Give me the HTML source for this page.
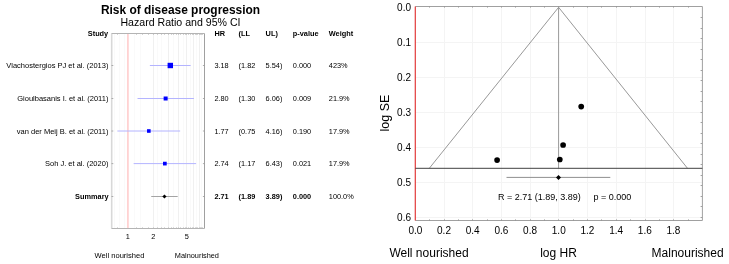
<!DOCTYPE html>
<html><head><meta charset="utf-8"><style>
html,body{margin:0;padding:0;background:#fff;width:729px;height:264px;overflow:hidden}
svg{display:block;will-change:transform}
text{font-family:"Liberation Sans",sans-serif;fill:#000}
</style></head><body>
<svg width="729" height="264" viewBox="0 0 729 264">
<line x1="161.50" y1="33.5" x2="161.50" y2="228.5" stroke="#fafafa" stroke-width="1"/>
<line x1="173.50" y1="33.5" x2="173.50" y2="228.5" stroke="#fafafa" stroke-width="1"/>
<line x1="183.50" y1="33.5" x2="183.50" y2="228.5" stroke="#fafafa" stroke-width="1"/>
<line x1="190.50" y1="33.5" x2="190.50" y2="228.5" stroke="#fafafa" stroke-width="1"/>
<line x1="196.50" y1="33.5" x2="196.50" y2="228.5" stroke="#fafafa" stroke-width="1"/>
<line x1="201.50" y1="33.5" x2="201.50" y2="228.5" stroke="#fafafa" stroke-width="1"/>
<line x1="114.50" y1="33.5" x2="114.50" y2="228.5" stroke="#fafafa" stroke-width="1"/>
<line x1="119.50" y1="33.5" x2="119.50" y2="228.5" stroke="#fafafa" stroke-width="1"/>
<line x1="124.50" y1="33.5" x2="124.50" y2="228.5" stroke="#fafafa" stroke-width="1"/>
<line x1="134.50" y1="33.5" x2="134.50" y2="228.5" stroke="#fafafa" stroke-width="1"/>
<line x1="140.50" y1="33.5" x2="140.50" y2="228.5" stroke="#fafafa" stroke-width="1"/>
<line x1="157.50" y1="33.5" x2="157.50" y2="228.5" stroke="#fafafa" stroke-width="1"/>
<line x1="153.50" y1="33.5" x2="153.50" y2="228.5" stroke="#f0f0f0" stroke-width="1"/>
<line x1="168.50" y1="33.5" x2="168.50" y2="228.5" stroke="#f0f0f0" stroke-width="1"/>
<line x1="178.50" y1="33.5" x2="178.50" y2="228.5" stroke="#f0f0f0" stroke-width="1"/>
<line x1="186.50" y1="33.5" x2="186.50" y2="228.5" stroke="#f0f0f0" stroke-width="1"/>
<line x1="193.50" y1="33.5" x2="193.50" y2="228.5" stroke="#f0f0f0" stroke-width="1"/>
<line x1="199.50" y1="33.5" x2="199.50" y2="228.5" stroke="#f0f0f0" stroke-width="1"/>
<line x1="117.5" y1="33.5" x2="117.5" y2="34.5" stroke="#a8a8a8" stroke-width="1"/>
<line x1="117.5" y1="227.5" x2="117.5" y2="228.5" stroke="#b8b8b8" stroke-width="1"/>
<line x1="127.5" y1="33.5" x2="127.5" y2="34.5" stroke="#a8a8a8" stroke-width="1"/>
<line x1="127.5" y1="227.5" x2="127.5" y2="228.5" stroke="#b8b8b8" stroke-width="1"/>
<line x1="136.5" y1="33.5" x2="136.5" y2="34.5" stroke="#a8a8a8" stroke-width="1"/>
<line x1="136.5" y1="227.5" x2="136.5" y2="228.5" stroke="#b8b8b8" stroke-width="1"/>
<line x1="142.5" y1="33.5" x2="142.5" y2="34.5" stroke="#a8a8a8" stroke-width="1"/>
<line x1="142.5" y1="227.5" x2="142.5" y2="228.5" stroke="#b8b8b8" stroke-width="1"/>
<line x1="148.5" y1="33.5" x2="148.5" y2="34.5" stroke="#a8a8a8" stroke-width="1"/>
<line x1="148.5" y1="227.5" x2="148.5" y2="228.5" stroke="#b8b8b8" stroke-width="1"/>
<line x1="153.5" y1="33.5" x2="153.5" y2="34.5" stroke="#a8a8a8" stroke-width="1"/>
<line x1="153.5" y1="227.5" x2="153.5" y2="228.5" stroke="#b8b8b8" stroke-width="1"/>
<line x1="157.5" y1="33.5" x2="157.5" y2="34.5" stroke="#a8a8a8" stroke-width="1"/>
<line x1="157.5" y1="227.5" x2="157.5" y2="228.5" stroke="#b8b8b8" stroke-width="1"/>
<line x1="161.5" y1="33.5" x2="161.5" y2="34.5" stroke="#a8a8a8" stroke-width="1"/>
<line x1="161.5" y1="227.5" x2="161.5" y2="228.5" stroke="#b8b8b8" stroke-width="1"/>
<line x1="164.5" y1="33.5" x2="164.5" y2="34.5" stroke="#a8a8a8" stroke-width="1"/>
<line x1="164.5" y1="227.5" x2="164.5" y2="228.5" stroke="#b8b8b8" stroke-width="1"/>
<line x1="168.5" y1="33.5" x2="168.5" y2="34.5" stroke="#a8a8a8" stroke-width="1"/>
<line x1="168.5" y1="227.5" x2="168.5" y2="228.5" stroke="#b8b8b8" stroke-width="1"/>
<line x1="171.5" y1="33.5" x2="171.5" y2="34.5" stroke="#a8a8a8" stroke-width="1"/>
<line x1="171.5" y1="227.5" x2="171.5" y2="228.5" stroke="#b8b8b8" stroke-width="1"/>
<line x1="173.5" y1="33.5" x2="173.5" y2="34.5" stroke="#a8a8a8" stroke-width="1"/>
<line x1="173.5" y1="227.5" x2="173.5" y2="228.5" stroke="#b8b8b8" stroke-width="1"/>
<line x1="176.5" y1="33.5" x2="176.5" y2="34.5" stroke="#a8a8a8" stroke-width="1"/>
<line x1="176.5" y1="227.5" x2="176.5" y2="228.5" stroke="#b8b8b8" stroke-width="1"/>
<line x1="178.5" y1="33.5" x2="178.5" y2="34.5" stroke="#a8a8a8" stroke-width="1"/>
<line x1="178.5" y1="227.5" x2="178.5" y2="228.5" stroke="#b8b8b8" stroke-width="1"/>
<line x1="180.5" y1="33.5" x2="180.5" y2="34.5" stroke="#a8a8a8" stroke-width="1"/>
<line x1="180.5" y1="227.5" x2="180.5" y2="228.5" stroke="#b8b8b8" stroke-width="1"/>
<line x1="183.5" y1="33.5" x2="183.5" y2="34.5" stroke="#a8a8a8" stroke-width="1"/>
<line x1="183.5" y1="227.5" x2="183.5" y2="228.5" stroke="#b8b8b8" stroke-width="1"/>
<line x1="185.5" y1="33.5" x2="185.5" y2="34.5" stroke="#a8a8a8" stroke-width="1"/>
<line x1="185.5" y1="227.5" x2="185.5" y2="228.5" stroke="#b8b8b8" stroke-width="1"/>
<line x1="186.5" y1="33.5" x2="186.5" y2="34.5" stroke="#a8a8a8" stroke-width="1"/>
<line x1="186.5" y1="227.5" x2="186.5" y2="228.5" stroke="#b8b8b8" stroke-width="1"/>
<line x1="188.5" y1="33.5" x2="188.5" y2="34.5" stroke="#a8a8a8" stroke-width="1"/>
<line x1="188.5" y1="227.5" x2="188.5" y2="228.5" stroke="#b8b8b8" stroke-width="1"/>
<line x1="190.5" y1="33.5" x2="190.5" y2="34.5" stroke="#a8a8a8" stroke-width="1"/>
<line x1="190.5" y1="227.5" x2="190.5" y2="228.5" stroke="#b8b8b8" stroke-width="1"/>
<line x1="192.5" y1="33.5" x2="192.5" y2="34.5" stroke="#a8a8a8" stroke-width="1"/>
<line x1="192.5" y1="227.5" x2="192.5" y2="228.5" stroke="#b8b8b8" stroke-width="1"/>
<line x1="193.5" y1="33.5" x2="193.5" y2="34.5" stroke="#a8a8a8" stroke-width="1"/>
<line x1="193.5" y1="227.5" x2="193.5" y2="228.5" stroke="#b8b8b8" stroke-width="1"/>
<line x1="195.5" y1="33.5" x2="195.5" y2="34.5" stroke="#a8a8a8" stroke-width="1"/>
<line x1="195.5" y1="227.5" x2="195.5" y2="228.5" stroke="#b8b8b8" stroke-width="1"/>
<line x1="196.5" y1="33.5" x2="196.5" y2="34.5" stroke="#a8a8a8" stroke-width="1"/>
<line x1="196.5" y1="227.5" x2="196.5" y2="228.5" stroke="#b8b8b8" stroke-width="1"/>
<line x1="197.5" y1="33.5" x2="197.5" y2="34.5" stroke="#a8a8a8" stroke-width="1"/>
<line x1="197.5" y1="227.5" x2="197.5" y2="228.5" stroke="#b8b8b8" stroke-width="1"/>
<line x1="199.5" y1="33.5" x2="199.5" y2="34.5" stroke="#a8a8a8" stroke-width="1"/>
<line x1="199.5" y1="227.5" x2="199.5" y2="228.5" stroke="#b8b8b8" stroke-width="1"/>
<line x1="200.5" y1="33.5" x2="200.5" y2="34.5" stroke="#a8a8a8" stroke-width="1"/>
<line x1="200.5" y1="227.5" x2="200.5" y2="228.5" stroke="#b8b8b8" stroke-width="1"/>
<line x1="201.5" y1="33.5" x2="201.5" y2="34.5" stroke="#a8a8a8" stroke-width="1"/>
<line x1="201.5" y1="227.5" x2="201.5" y2="228.5" stroke="#b8b8b8" stroke-width="1"/>
<line x1="202.5" y1="33.5" x2="202.5" y2="34.5" stroke="#a8a8a8" stroke-width="1"/>
<line x1="202.5" y1="227.5" x2="202.5" y2="228.5" stroke="#b8b8b8" stroke-width="1"/>
<line x1="127.90" y1="33.5" x2="127.90" y2="228.5" stroke="#ffd2d2" stroke-width="1.8"/>
<line x1="111.7" y1="33.5" x2="111.7" y2="228.5" stroke="#d8d8d8" stroke-width="1.6"/>
<line x1="111.5" y1="33.5" x2="204.5" y2="33.5" stroke="#b4b4b4" stroke-width="1"/>
<line x1="204.5" y1="33.5" x2="204.5" y2="228.5" stroke="#a0a0a0" stroke-width="1"/>
<line x1="111.5" y1="228.5" x2="204.5" y2="228.5" stroke="#b4b4b4" stroke-width="1"/>
<line x1="149.85" y1="65.5" x2="190.65" y2="65.5" stroke="#b4b4ff" stroke-width="1"/>
<rect x="167.60" y="62.80" width="5.4" height="5.4" fill="#0000ff"/>
<line x1="111.5" y1="65.5" x2="113.3" y2="65.5" stroke="#999" stroke-width="0.8"/>
<line x1="202.9" y1="65.5" x2="204.5" y2="65.5" stroke="#999" stroke-width="0.8"/>
<text x="108.4" y="68.35" text-anchor="end" font-size="7.5">Vlachostergios PJ et al. (2013)</text>
<text x="214.4" y="68.35" font-size="7.35">3.18</text>
<text x="238.6" y="68.35" font-size="7.35">(1.82</text>
<text x="265.6" y="68.35" font-size="7.35">5.54)</text>
<text x="292.8" y="68.35" font-size="7.35">0.000</text>
<text x="328.8" y="68.35" font-size="7.35">423%</text>
<line x1="137.52" y1="98.5" x2="193.94" y2="98.5" stroke="#b4b4ff" stroke-width="1"/>
<rect x="163.64" y="96.50" width="4.0" height="4.0" fill="#0000ff"/>
<line x1="111.5" y1="98.5" x2="113.3" y2="98.5" stroke="#999" stroke-width="0.8"/>
<line x1="202.9" y1="98.5" x2="204.5" y2="98.5" stroke="#999" stroke-width="0.8"/>
<text x="108.4" y="101.35" text-anchor="end" font-size="7.5">Gioulbasanis I. et al. (2011)</text>
<text x="214.4" y="101.35" font-size="7.35">2.80</text>
<text x="238.6" y="101.35" font-size="7.35">(1.30</text>
<text x="265.6" y="101.35" font-size="7.35">6.06)</text>
<text x="292.8" y="101.35" font-size="7.35">0.009</text>
<text x="328.8" y="101.35" font-size="7.35">21.9%</text>
<line x1="117.36" y1="131.0" x2="180.15" y2="131.0" stroke="#b4b4ff" stroke-width="1"/>
<rect x="147.03" y="129.20" width="3.6" height="3.6" fill="#0000ff"/>
<line x1="111.5" y1="131.0" x2="113.3" y2="131.0" stroke="#999" stroke-width="0.8"/>
<line x1="202.9" y1="131.0" x2="204.5" y2="131.0" stroke="#999" stroke-width="0.8"/>
<text x="108.4" y="133.85" text-anchor="end" font-size="7.5">van der Meij B. et al. (2011)</text>
<text x="214.4" y="133.85" font-size="7.35">1.77</text>
<text x="238.6" y="133.85" font-size="7.35">(0.75</text>
<text x="265.6" y="133.85" font-size="7.35">4.16)</text>
<text x="292.8" y="133.85" font-size="7.35">0.190</text>
<text x="328.8" y="133.85" font-size="7.35">17.9%</text>
<line x1="133.65" y1="163.6" x2="196.11" y2="163.6" stroke="#b4b4ff" stroke-width="1"/>
<rect x="163.00" y="161.75" width="3.7" height="3.7" fill="#0000ff"/>
<line x1="111.5" y1="163.6" x2="113.3" y2="163.6" stroke="#999" stroke-width="0.8"/>
<line x1="202.9" y1="163.6" x2="204.5" y2="163.6" stroke="#999" stroke-width="0.8"/>
<text x="108.4" y="166.45" text-anchor="end" font-size="7.5">Soh J. et al. (2020)</text>
<text x="214.4" y="166.45" font-size="7.35">2.74</text>
<text x="238.6" y="166.45" font-size="7.35">(1.17</text>
<text x="265.6" y="166.45" font-size="7.35">6.43)</text>
<text x="292.8" y="166.45" font-size="7.35">0.021</text>
<text x="328.8" y="166.45" font-size="7.35">17.9%</text>
<line x1="151.23" y1="196.5" x2="177.69" y2="196.5" stroke="#a4a4a4" stroke-width="1"/>
<polygon points="162.34,196.5 164.44,194.4 166.54,196.5 164.44,198.6" fill="#000"/>
<line x1="111.5" y1="196.5" x2="113.3" y2="196.5" stroke="#999" stroke-width="0.8"/>
<line x1="202.9" y1="196.5" x2="204.5" y2="196.5" stroke="#999" stroke-width="0.8"/>
<text x="108.6" y="199.15" text-anchor="end" font-size="7.35" font-weight="bold">Summary</text>
<text x="214.4" y="199.15" font-size="7.35" font-weight="bold">2.71</text>
<text x="238.6" y="199.15" font-size="7.35" font-weight="bold">(1.89</text>
<text x="265.6" y="199.15" font-size="7.35" font-weight="bold">3.89)</text>
<text x="292.8" y="199.15" font-size="7.35" font-weight="bold">0.000</text>
<text x="328.8" y="199.15" font-size="7.35">100.0%</text>
<text x="108.2" y="35.8" text-anchor="end" font-size="7.35" font-weight="bold">Study</text>
<text x="214.4" y="35.8" font-size="7.35" font-weight="bold">HR</text>
<text x="238.6" y="35.8" font-size="7.35" font-weight="bold">(LL</text>
<text x="265.6" y="35.8" font-size="7.35" font-weight="bold">UL)</text>
<text x="292.8" y="35.8" font-size="7.35" font-weight="bold">p-value</text>
<text x="328.8" y="35.8" font-size="7.35" font-weight="bold">Weight</text>
<text x="180.5" y="13.7" text-anchor="middle" font-size="11.95" font-weight="bold">Risk of disease progression</text>
<text x="180.5" y="25.85" text-anchor="middle" font-size="10.6">Hazard Ratio and 95% CI</text>
<text x="127.90" y="239.4" text-anchor="middle" font-size="7.35">1</text>
<text x="153.31" y="239.4" text-anchor="middle" font-size="7.35">2</text>
<text x="186.89" y="239.4" text-anchor="middle" font-size="7.35">5</text>
<text x="119.5" y="257.5" text-anchor="middle" font-size="7.55">Well nourished</text>
<text x="196.9" y="257.5" text-anchor="middle" font-size="7.35">Malnourished</text>
<line x1="444.50" y1="6.5" x2="444.50" y2="220.5" stroke="#f4f4f4" stroke-width="1"/>
<line x1="472.50" y1="6.5" x2="472.50" y2="220.5" stroke="#f4f4f4" stroke-width="1"/>
<line x1="501.50" y1="6.5" x2="501.50" y2="220.5" stroke="#f4f4f4" stroke-width="1"/>
<line x1="530.50" y1="6.5" x2="530.50" y2="220.5" stroke="#f4f4f4" stroke-width="1"/>
<line x1="558.50" y1="6.5" x2="558.50" y2="220.5" stroke="#f4f4f4" stroke-width="1"/>
<line x1="587.50" y1="6.5" x2="587.50" y2="220.5" stroke="#f4f4f4" stroke-width="1"/>
<line x1="616.50" y1="6.5" x2="616.50" y2="220.5" stroke="#f4f4f4" stroke-width="1"/>
<line x1="645.50" y1="6.5" x2="645.50" y2="220.5" stroke="#f4f4f4" stroke-width="1"/>
<line x1="673.50" y1="6.5" x2="673.50" y2="220.5" stroke="#f4f4f4" stroke-width="1"/>
<line x1="415.3" y1="42.50" x2="702.4" y2="42.50" stroke="#f4f4f4" stroke-width="1"/>
<line x1="415.3" y1="77.50" x2="702.4" y2="77.50" stroke="#f4f4f4" stroke-width="1"/>
<line x1="415.3" y1="112.50" x2="702.4" y2="112.50" stroke="#f4f4f4" stroke-width="1"/>
<line x1="415.3" y1="147.50" x2="702.4" y2="147.50" stroke="#f4f4f4" stroke-width="1"/>
<line x1="415.3" y1="182.50" x2="702.4" y2="182.50" stroke="#f4f4f4" stroke-width="1"/>
<line x1="415.3" y1="217.50" x2="702.4" y2="217.50" stroke="#f4f4f4" stroke-width="1"/>
<polyline points="415.3,6.5 702.4,6.5 702.4,220.5 415.3,220.5" fill="none" stroke="#a0a0a0" stroke-width="1"/>
<line x1="429.50" y1="6.5" x2="429.50" y2="7.5" stroke="#909090" stroke-width="1"/>
<line x1="429.50" y1="219.5" x2="429.50" y2="220.5" stroke="#909090" stroke-width="1"/>
<line x1="444.50" y1="6.5" x2="444.50" y2="7.5" stroke="#909090" stroke-width="1"/>
<line x1="444.50" y1="219.5" x2="444.50" y2="220.5" stroke="#909090" stroke-width="1"/>
<line x1="458.50" y1="6.5" x2="458.50" y2="7.5" stroke="#909090" stroke-width="1"/>
<line x1="458.50" y1="219.5" x2="458.50" y2="220.5" stroke="#909090" stroke-width="1"/>
<line x1="472.50" y1="6.5" x2="472.50" y2="7.5" stroke="#909090" stroke-width="1"/>
<line x1="472.50" y1="219.5" x2="472.50" y2="220.5" stroke="#909090" stroke-width="1"/>
<line x1="487.50" y1="6.5" x2="487.50" y2="7.5" stroke="#909090" stroke-width="1"/>
<line x1="487.50" y1="219.5" x2="487.50" y2="220.5" stroke="#909090" stroke-width="1"/>
<line x1="501.50" y1="6.5" x2="501.50" y2="7.5" stroke="#909090" stroke-width="1"/>
<line x1="501.50" y1="219.5" x2="501.50" y2="220.5" stroke="#909090" stroke-width="1"/>
<line x1="515.50" y1="6.5" x2="515.50" y2="7.5" stroke="#909090" stroke-width="1"/>
<line x1="515.50" y1="219.5" x2="515.50" y2="220.5" stroke="#909090" stroke-width="1"/>
<line x1="530.50" y1="6.5" x2="530.50" y2="7.5" stroke="#909090" stroke-width="1"/>
<line x1="530.50" y1="219.5" x2="530.50" y2="220.5" stroke="#909090" stroke-width="1"/>
<line x1="544.50" y1="6.5" x2="544.50" y2="7.5" stroke="#909090" stroke-width="1"/>
<line x1="544.50" y1="219.5" x2="544.50" y2="220.5" stroke="#909090" stroke-width="1"/>
<line x1="558.50" y1="6.5" x2="558.50" y2="7.5" stroke="#909090" stroke-width="1"/>
<line x1="558.50" y1="219.5" x2="558.50" y2="220.5" stroke="#909090" stroke-width="1"/>
<line x1="573.50" y1="6.5" x2="573.50" y2="7.5" stroke="#909090" stroke-width="1"/>
<line x1="573.50" y1="219.5" x2="573.50" y2="220.5" stroke="#909090" stroke-width="1"/>
<line x1="587.50" y1="6.5" x2="587.50" y2="7.5" stroke="#909090" stroke-width="1"/>
<line x1="587.50" y1="219.5" x2="587.50" y2="220.5" stroke="#909090" stroke-width="1"/>
<line x1="601.50" y1="6.5" x2="601.50" y2="7.5" stroke="#909090" stroke-width="1"/>
<line x1="601.50" y1="219.5" x2="601.50" y2="220.5" stroke="#909090" stroke-width="1"/>
<line x1="616.50" y1="6.5" x2="616.50" y2="7.5" stroke="#909090" stroke-width="1"/>
<line x1="616.50" y1="219.5" x2="616.50" y2="220.5" stroke="#909090" stroke-width="1"/>
<line x1="630.50" y1="6.5" x2="630.50" y2="7.5" stroke="#909090" stroke-width="1"/>
<line x1="630.50" y1="219.5" x2="630.50" y2="220.5" stroke="#909090" stroke-width="1"/>
<line x1="645.50" y1="6.5" x2="645.50" y2="7.5" stroke="#909090" stroke-width="1"/>
<line x1="645.50" y1="219.5" x2="645.50" y2="220.5" stroke="#909090" stroke-width="1"/>
<line x1="659.50" y1="6.5" x2="659.50" y2="7.5" stroke="#909090" stroke-width="1"/>
<line x1="659.50" y1="219.5" x2="659.50" y2="220.5" stroke="#909090" stroke-width="1"/>
<line x1="673.50" y1="6.5" x2="673.50" y2="7.5" stroke="#909090" stroke-width="1"/>
<line x1="673.50" y1="219.5" x2="673.50" y2="220.5" stroke="#909090" stroke-width="1"/>
<line x1="688.50" y1="6.5" x2="688.50" y2="7.5" stroke="#909090" stroke-width="1"/>
<line x1="688.50" y1="219.5" x2="688.50" y2="220.5" stroke="#909090" stroke-width="1"/>
<line x1="700.6" y1="17.5" x2="702.4" y2="17.5" stroke="#a0a0a0" stroke-width="1"/>
<line x1="700.6" y1="28.5" x2="702.4" y2="28.5" stroke="#a0a0a0" stroke-width="1"/>
<line x1="700.6" y1="38.5" x2="702.4" y2="38.5" stroke="#a0a0a0" stroke-width="1"/>
<line x1="700.6" y1="49.5" x2="702.4" y2="49.5" stroke="#a0a0a0" stroke-width="1"/>
<line x1="700.6" y1="59.5" x2="702.4" y2="59.5" stroke="#a0a0a0" stroke-width="1"/>
<line x1="700.6" y1="70.5" x2="702.4" y2="70.5" stroke="#a0a0a0" stroke-width="1"/>
<line x1="700.6" y1="80.5" x2="702.4" y2="80.5" stroke="#a0a0a0" stroke-width="1"/>
<line x1="700.6" y1="91.5" x2="702.4" y2="91.5" stroke="#a0a0a0" stroke-width="1"/>
<line x1="700.6" y1="101.5" x2="702.4" y2="101.5" stroke="#a0a0a0" stroke-width="1"/>
<line x1="700.6" y1="112.5" x2="702.4" y2="112.5" stroke="#a0a0a0" stroke-width="1"/>
<line x1="700.6" y1="122.5" x2="702.4" y2="122.5" stroke="#a0a0a0" stroke-width="1"/>
<line x1="700.6" y1="133.5" x2="702.4" y2="133.5" stroke="#a0a0a0" stroke-width="1"/>
<line x1="700.6" y1="143.5" x2="702.4" y2="143.5" stroke="#a0a0a0" stroke-width="1"/>
<line x1="700.6" y1="154.5" x2="702.4" y2="154.5" stroke="#a0a0a0" stroke-width="1"/>
<line x1="700.6" y1="164.5" x2="702.4" y2="164.5" stroke="#a0a0a0" stroke-width="1"/>
<line x1="700.6" y1="175.5" x2="702.4" y2="175.5" stroke="#a0a0a0" stroke-width="1"/>
<line x1="700.6" y1="185.5" x2="702.4" y2="185.5" stroke="#a0a0a0" stroke-width="1"/>
<line x1="700.6" y1="196.5" x2="702.4" y2="196.5" stroke="#a0a0a0" stroke-width="1"/>
<line x1="700.6" y1="206.5" x2="702.4" y2="206.5" stroke="#a0a0a0" stroke-width="1"/>
<line x1="700.6" y1="217.5" x2="702.4" y2="217.5" stroke="#a0a0a0" stroke-width="1"/>
<line x1="415.3" y1="6.5" x2="415.3" y2="220.5" stroke="#e23a3a" stroke-width="1.2"/>
<polyline points="429.3,168.3 558.6,7.3 687.5,168.3" fill="none" stroke="#8c8c8c" stroke-width="0.9"/>
<line x1="558.6" y1="6.5" x2="558.6" y2="168.3" stroke="#9a9a9a" stroke-width="1"/>
<line x1="415.3" y1="168.3" x2="702.4" y2="168.3" stroke="#404040" stroke-width="1"/>
<circle cx="581.2" cy="106.6" r="2.85" fill="#000"/>
<circle cx="563.1" cy="145.0" r="2.85" fill="#000"/>
<circle cx="497.1" cy="160.1" r="2.85" fill="#000"/>
<circle cx="559.8" cy="159.5" r="2.85" fill="#000"/>
<line x1="506.5" y1="177.4" x2="610.3" y2="177.4" stroke="#909090" stroke-width="1"/>
<polygon points="556.0,177.4 558.5,174.9 561.0,177.4 558.5,179.9" fill="#000"/>
<text x="498" y="199.5" font-size="9">R = 2.71 (1.89, 3.89)</text>
<text x="593.6" y="199.5" font-size="9">p = 0.000</text>
<text x="411" y="11.10" text-anchor="end" font-size="10">0.0</text>
<text x="411" y="46.03" text-anchor="end" font-size="10">0.1</text>
<text x="411" y="80.96" text-anchor="end" font-size="10">0.2</text>
<text x="411" y="115.89" text-anchor="end" font-size="10">0.3</text>
<text x="411" y="150.82" text-anchor="end" font-size="10">0.4</text>
<text x="411" y="185.75" text-anchor="end" font-size="10">0.5</text>
<text x="411" y="220.68" text-anchor="end" font-size="10">0.6</text>
<text x="415.35" y="233.8" text-anchor="middle" font-size="10">0.0</text>
<text x="444.03" y="233.8" text-anchor="middle" font-size="10">0.2</text>
<text x="472.71" y="233.8" text-anchor="middle" font-size="10">0.4</text>
<text x="501.39" y="233.8" text-anchor="middle" font-size="10">0.6</text>
<text x="530.07" y="233.8" text-anchor="middle" font-size="10">0.8</text>
<text x="558.75" y="233.8" text-anchor="middle" font-size="10">1.0</text>
<text x="587.43" y="233.8" text-anchor="middle" font-size="10">1.2</text>
<text x="616.11" y="233.8" text-anchor="middle" font-size="10">1.4</text>
<text x="644.79" y="233.8" text-anchor="middle" font-size="10">1.6</text>
<text x="673.47" y="233.8" text-anchor="middle" font-size="10">1.8</text>
<text transform="translate(389.4,113) rotate(-90)" text-anchor="middle" font-size="12.5">log SE</text>
<text x="429" y="256.8" text-anchor="middle" font-size="12">Well nourished</text>
<text x="558.5" y="256.8" text-anchor="middle" font-size="12">log HR</text>
<text x="687.6" y="256.8" text-anchor="middle" font-size="12">Malnourished</text>
</svg>
</body></html>
